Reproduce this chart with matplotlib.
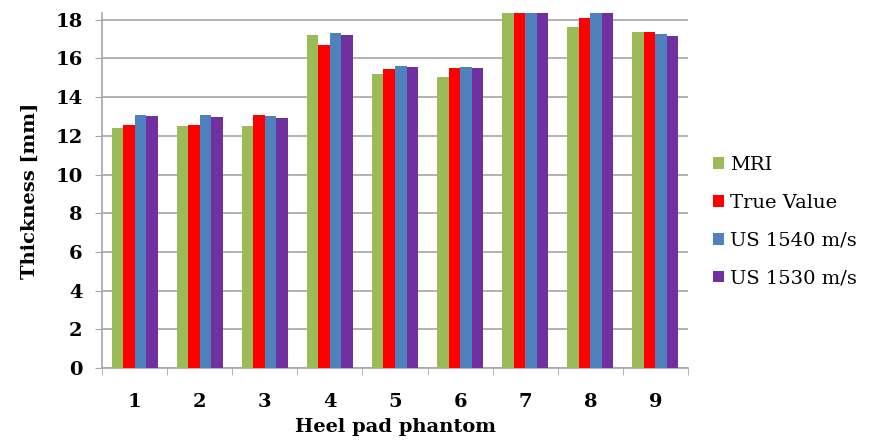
import numpy as np
import matplotlib.pyplot as plt

# Heel pad thickness per phantom, four measurement methods
phantoms = ['1', '2', '3', '4', '5', '6', '7', '8', '9']
mri = [12.40, 12.52, 12.52, 17.21, 15.19, 15.02, 18.90, 17.64, 17.36]
true_value = [12.57, 12.57, 13.07, 16.69, 15.47, 15.52, 19.00, 18.09, 17.36]
us_1540 = [13.07, 13.07, 13.02, 17.31, 15.62, 15.57, 19.10, 18.50, 17.26]
us_1530 = [13.02, 12.97, 12.92, 17.21, 15.57, 15.52, 19.10, 18.50, 17.16]

series = [('MRI', mri, '#9BBB59'),
          ('True Value', true_value, '#FF0000'),
          ('US 1540 m/s', us_1540, '#4F81BD'),
          ('US 1530 m/s', us_1530, '#7030A0')]

fig = plt.figure(figsize=(8.69, 4.41), dpi=100)
ax = fig.add_axes([0.1174, 0.1655, 0.6743, 0.805])

x = np.arange(len(phantoms))
w = 0.177
for i, (name, vals, col) in enumerate(series):
    ax.bar(x + (i - 1.5) * w, vals, w, color=col, label=name, zorder=3)

ax.set_xlim(-0.5, len(phantoms) - 0.5)
ax.set_ylim(0, 18.35)
ax.set_yticks(np.arange(0, 19, 2))
ax.yaxis.grid(True, color='#A6A6A6', linewidth=1.2, zorder=0)

ax.set_xticks(x)
ax.set_xticklabels(phantoms)
ax.set_xticks(np.arange(-0.5, len(phantoms), 1), minor=True)
ax.tick_params(axis='x', which='major', length=0, pad=18)
ax.tick_params(axis='x', which='minor', length=5, color='#A6A6A6')
ax.tick_params(axis='y', length=5, color='#A6A6A6', pad=9)

fsize = 14
for lab in ax.get_xticklabels() + ax.get_yticklabels():
    lab.set_fontfamily('DejaVu Serif')
    lab.set_fontweight('bold')
    lab.set_fontsize(fsize)

for s in ['top', 'right']:
    ax.spines[s].set_visible(False)
for s in ['left', 'bottom']:
    ax.spines[s].set_color('#A6A6A6')
    ax.spines[s].set_linewidth(1.2)

ax.set_xlabel('Heel pad phantom', fontfamily='DejaVu Serif', fontweight='bold',
              fontsize=fsize, labelpad=5)
ax.set_ylabel('Thickness [mm]', fontfamily='DejaVu Serif', fontweight='bold',
              fontsize=fsize, labelpad=12)

ax.legend(loc='upper left', bbox_to_anchor=(0.812, 0.664), bbox_transform=fig.transFigure,
          frameon=False, prop={'family': 'DejaVu Serif', 'size': fsize},
          handlelength=0.55, handleheight=0.55, handletextpad=0.3, labelspacing=1.02,
          borderaxespad=0)

fig.savefig('out.png', dpi=100)
